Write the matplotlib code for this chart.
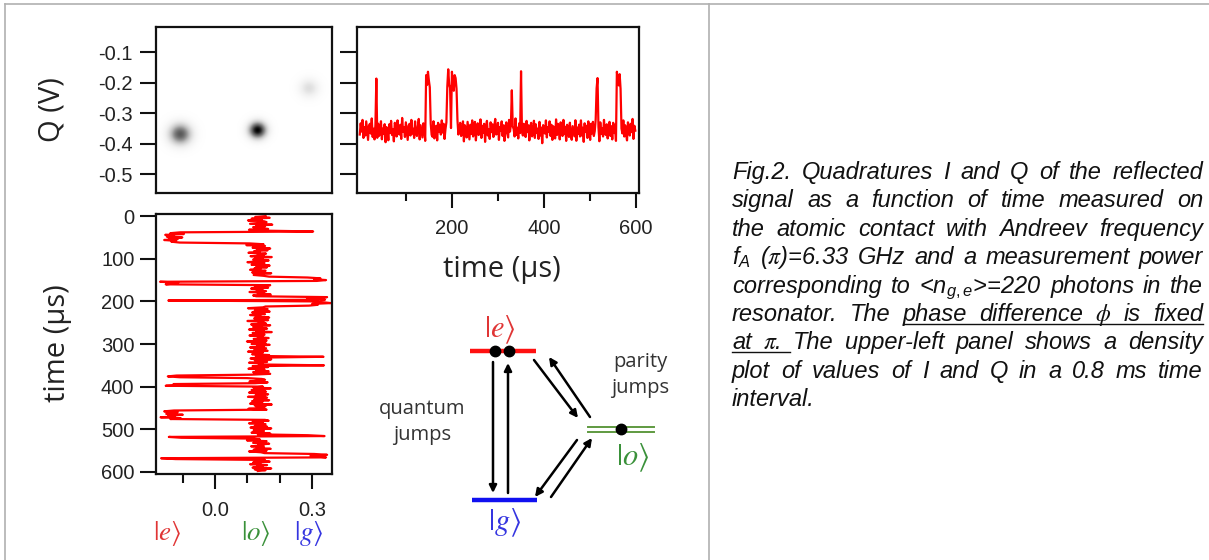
import numpy as np
import matplotlib
matplotlib.use("Agg")
import matplotlib.pyplot as plt
from matplotlib.ticker import FixedLocator
from matplotlib.transforms import blended_transform_factory

plt.rcParams['mathtext.fontset'] = 'custom'
plt.rcParams['mathtext.it'] = 'Liberation Sans:italic'
plt.rcParams['mathtext.rm'] = 'Liberation Sans'

# ---- data ----
# state of the contact, sample every 2 us (e = excited, o = odd, g = ground)
dt = 2.0
state_runs = [('o', 18), ('g', 1), ('e', 13), ('o', 40), ('g', 5), ('e', 4),
              ('o', 14), ('g', 4), ('e', 1), ('g', 6), ('o', 59), ('g', 1),
              ('o', 9), ('g', 1), ('o', 11), ('e', 3), ('o', 7), ('e', 3),
              ('o', 28), ('e', 11), ('o', 18), ('g', 2), ('e', 2), ('o', 18),
              ('g', 5), ('e', 2), ('o', 14)]
i_level = {'e': -0.132, 'o': 0.137, 'g': 0.318}
q_level = {'e': -0.362, 'o': -0.356, 'g': -0.195}

# measurement noise on each sample, in units of noise_unit volts
noise_unit = 0.0016
i_noise = """
12 -8 20 -15 5 -22 9 14 -3 -18 25 -6 11 -12 2 17 -20 7 -9 15 -4 22 -14 3 -11 19 -7 10 -16 6
-2 14 -19 8 -25 11 4 -13 21 -5 16 -10 1 -21 13 -3 9 -17 24 -8 6 -12 18 -1 -23 10 3 -15 20 -6
15 -9 2 -18 12 7 -14 23 -4 -11 8 19 -20 5 -7 16 -2 -24 11 4 -13 21 -9 1 17 -16 6 -5 13 -19
9 -3 22 -12 -6 18 -21 3 14 -8 -15 10 25 -11 0 -17 12 7 -22 16 -4 -9 20 -14 5 11 -18 2 -7 19
-10 6 17 -23 8 -1 13 -16 21 -5 -12 4 15 -20 9 -6 24 -13 2 10 -19 7 -3 18 -11 -8 14 -24 5 12
-15 20 -4 9 -18 13 1 -10 16 -22 7 3 -14 19 -7 11 -2 -17 23 -9 4 15 -20 6 -1 12 -13 17 -5 -21
10 -6 18 -12 3 21 -16 8 -9 14 -24 5 11 -3 -19 16 -8 2 20 -13 7 -11 22 -4 -15 9 13 -20 1 17
-7 11 -22 15 4 -10 19 -14 6 -2 -18 24 -9 12 -5 8 -21 14 3 -16 10 -1 -12 20 -8 5 -23 16 -4 11
18 -13 7 -20 12 2 -9 15 -17 23 -6 -11 9 4 -15 21 -3 -19 13 -7 17 -10 1 -24 14 6 -12 19 -2 8
-16 9 -5 22 -11 14 -20 3 10 -7 18 -14 -1 16 -22 6 11 -8 20 -12 2 -18 15 -4 7 -13 23 -9 12 -3
"""
q_noise = """
-9 14 -3 21 -16 6 -11 18 -2 -20 9 13 -7 24 -14 3 -19 11 5 -12 17 -8 -1 22 -15 7 -4 16 -21 10
4 -17 12 -6 19 -10 2 -23 15 8 -13 20 -5 -9 11 -18 25 -3 6 -14 16 -1 -20 9 13 -11 21 -7 3 -16
18 -4 -12 7 23 -19 10 -2 -15 14 5 -22 12 -8 19 1 -13 17 -6 -10 22 -17 4 9 -21 15 -3 11 -9 20
-5 13 -18 2 16 -11 24 -7 -14 8 19 -3 -20 12 6 -16 21 -9 1 15 -12 -6 18 -23 10 4 -15 17 -1 -19
11 -8 20 -13 5 17 -21 3 14 -10 -2 22 -16 9 -5 13 -24 7 19 -11 2 -18 16 -4 12 -14 8 23 -9 -6
15 -20 6 -1 18 -12 10 -22 4 16 -7 -15 21 -3 11 -19 8 2 -13 24 -10 5 -17 14 -6 20 -2 -11 13 -8
-14 19 -4 10 -21 7 15 -9 -1 23 -16 12 -6 3 -18 17 -11 9 -23 14 1 -7 20 -15 6 -3 18 -12 11 -20
8 -2 -17 22 -10 13 4 -19 16 -5 -12 21 -8 7 -22 11 3 -14 19 -6 -16 12 2 -9 24 -18 9 -4 15 -13
20 -11 5 -24 14 -3 9 -16 18 1 -20 13 -7 17 -12 -2 22 -15 6 10 -19 16 -8 4 -13 21 -5 -10 12 -17
3 17 -12 8 -19 15 -6 11 -22 19 2 -9 14 -16 7 -3 20 -13 10 -8 -21 16 5 -11 13 -4 23 -18 9 -1
"""

# peaks of the I-Q density plot (e, o, g)
blob_i = [-0.109, 0.130, 0.289]
blob_q = [-0.369, -0.356, -0.218]
blob_w = [0.024, 0.019, 0.021]
blob_h = [0.72, 1.0, 0.22]

q_ticks = [-0.5, -0.4, -0.3, -0.2, -0.1]
t_ticks = [0, 100, 200, 300, 400, 500, 600]
t_major = [200, 400, 600]
t_minor = [100, 300, 500]
i_major = [0.0, 0.3]
i_minor = [-0.1, 0.1, 0.2]

caption = [
    "Fig.2. Quadratures I and Q of the reflected",
    "signal as a function of time measured on",
    "the atomic contact with Andreev frequency",
    "f$_A$ ($\\pi$)=6.33 GHz and a measurement power",
    "corresponding to <n$_{g,e}$>=220 photons in the",
    "resonator. The phase difference $\\phi$ is fixed",
    "at $\\pi$. The upper-left panel shows a density",
    "plot of values of I and Q in a 0.8 ms time",
    "interval.",
]

# ---- build the traces ----
states = ''.join(s * n for s, n in state_runs)
t = np.arange(len(states)) * dt
I = np.array([i_level[s] for s in states]) + np.array(i_noise.split(), float) * noise_unit
Q = np.array([q_level[s] for s in states]) + np.array(q_noise.split(), float) * noise_unit

ilim = (-0.183, 0.362)
qlim = (-0.562, -0.018)

W, H = 1209, 560
fig = plt.figure(figsize=(W / 100, H / 100), dpi=100)

# full-figure overlay in pixel units for frame, sketch and caption
ov = fig.add_axes([0, 0, 1, 1])
ov.set_xlim(0, W)
ov.set_ylim(H, 0)
ov.axis('off')

def px(l, top, r, b):
    return [l / W, 1 - b / H, (r - l) / W, (b - top) / H]

ax_d = fig.add_axes(px(156, 27, 332, 193))
ax_q = fig.add_axes(px(357, 27, 639, 193))
ax_i = fig.add_axes(px(156, 214, 332, 474))

tick_font = dict(family='Liberation Sans', size=14.5)
for ax in (ax_d, ax_q, ax_i):
    for s in ax.spines.values():
        s.set_linewidth(1.6)
        s.set_color('#111111')
    ax.tick_params(width=1.5, color='#111111', labelcolor='#222222')

# density plot
gi = np.linspace(ilim[0], ilim[1], 320)
gq = np.linspace(qlim[0], qlim[1], 320)
GI, GQ = np.meshgrid(gi, gq)
dens = np.zeros_like(GI)
for ci, cq, w, h in zip(blob_i, blob_q, blob_w, blob_h):
    dens = np.maximum(dens, h * np.exp(-((GI - ci) ** 2 + (GQ - cq) ** 2) / (2 * w ** 2)))
ax_d.imshow(dens, extent=[ilim[0], ilim[1], qlim[0], qlim[1]], origin='lower',
            cmap='Greys', vmin=0, vmax=1, aspect='auto', interpolation='bilinear')
ax_d.set_xlim(ilim)
ax_d.set_ylim(qlim)
ax_d.set_xticks([])
ax_d.set_yticks(q_ticks)
ax_d.set_yticklabels([f"{v:.1f}" for v in q_ticks], **tick_font)
ax_d.tick_params(axis='y', length=11.5, pad=5)

# Q versus time
ax_q.plot(t, Q, color='#ff0000', lw=1.6)
ax_q.set_xlim(-6, 606)
ax_q.set_ylim(qlim)
ax_q.set_yticks(q_ticks)
ax_q.tick_params(axis='y', length=12, labelleft=False)
ax_q.xaxis.set_major_locator(FixedLocator(t_major))
ax_q.xaxis.set_minor_locator(FixedLocator(t_minor))
ax_q.set_xticklabels([str(v) for v in t_major], **tick_font)
ax_q.tick_params(axis='x', which='major', length=11, pad=8)
ax_q.tick_params(axis='x', which='minor', length=5.5, width=1.5, color='#111111')

# I versus time (time running downwards)
ax_i.plot(I, t, color='#ff0000', lw=1.6)
ax_i.set_xlim(ilim)
ax_i.set_ylim(605, -5)
ax_i.set_yticks(t_ticks)
ax_i.set_yticklabels([str(v) for v in t_ticks], **tick_font)
ax_i.tick_params(axis='y', length=11.5, pad=4)
ax_i.xaxis.set_major_locator(FixedLocator(i_major))
ax_i.xaxis.set_minor_locator(FixedLocator(i_minor))
ax_i.set_xticklabels([f"{v:.1f}" for v in i_major], **tick_font)
ax_i.tick_params(axis='x', which='major', length=11, pad=8.5)
ax_i.tick_params(axis='x', which='minor', length=6.5, width=1.5, color='#111111')

# axis titles
lab_font = dict(family='Open Sans', size=21, color='#222222')
ov.text(52, 110, "Q (V)", rotation=90, ha='center', va='center', **lab_font)
ov.text(502, 269, "time (µs)", ha='center', va='center', **lab_font)
ov.text(57, 343, "time (µs)", rotation=90, ha='center', va='center', **lab_font)

# state labels under the I axis
ket_colors = {'e': '#e03535', 'o': '#3a913a', 'g': '#3535e0'}
bt = blended_transform_factory(ax_i.transData, fig.transFigure)
for s, x in zip(['e', 'o', 'g'], [-0.149, 0.127, 0.290]):
    ax_i.text(x, 1 - 533 / H, rf"$|{s}\rangle$", transform=bt, ha='center', va='center',
              fontsize=19.5, color=ket_colors[s], math_fontfamily='stix', clip_on=False)

# frame lines of the original layout
fc = '#b0b0b0'
ov.plot([5, W], [4, 4], color=fc, lw=1.2, clip_on=False)
ov.plot([5, 5], [4, H], color=fc, lw=1.2, clip_on=False)
ov.plot([709, 709], [4, H], color=fc, lw=1.2, clip_on=False)

# level sketch
ov.plot([470, 536], [351, 351], color='#ff1010', lw=3.2, solid_capstyle='butt')
ov.plot([472, 537], [500, 500], color='#1010f0', lw=3.2, solid_capstyle='butt')
ov.plot([588, 654], [427, 427], color='#5f9a40', lw=1.4)
ov.plot([588, 654], [432, 432], color='#5f9a40', lw=1.4)
ov.plot([495, 509, 621], [351, 351, 429], 'o', color='black', ms=7.5)
arrows = [((493, 362), (493, 493)), ((508, 493), (508, 363)),
          ((534, 360), (578, 418)), ((590, 417), (549, 357)),
          ((577, 440), (535, 497)), ((551, 497), (592, 438))]
for a, b in arrows:
    ov.annotate('', xy=b, xytext=a,
                arrowprops=dict(arrowstyle='-|>', color='black', lw=1.8,
                                mutation_scale=11, shrinkA=0, shrinkB=0))
ov.text(500, 330, r"$|e\rangle$", ha='center', va='center', fontsize=22,
        color='#e03535', math_fontfamily='stix')
ov.text(505, 523, r"$|g\rangle$", ha='center', va='center', fontsize=22,
        color='#3535e0', math_fontfamily='stix')
ov.text(633, 458, r"$|o\rangle$", ha='center', va='center', fontsize=22,
        color='#3a913a', math_fontfamily='stix')
sk_font = dict(family='Open Sans', size=14.5, color='#333333', ha='center',
               va='center', linespacing=1.45)
ov.text(422, 422, "quantum\njumps", **sk_font)
ov.text(640, 375, "parity\njumps", **sk_font)

# justified caption
x0, x1 = 732, 1203
base0, step = 179, 28.4
cap_font = dict(family='Liberation Sans', style='italic', size=17, color='#111111')
renderer = fig.canvas.get_renderer()
for k, line in enumerate(caption):
    yb = base0 + k * step
    words = line.split(' ')
    texts = []
    for wd in words:
        mf = 'stix' if '\\p' in wd else 'custom'
        texts.append(ov.text(x0, yb, wd, va='baseline', ha='left',
                             math_fontfamily=mf, **cap_font))
    widths = [tx.get_window_extent(renderer=renderer).width for tx in texts]
    if k == len(caption) - 1:
        gap = 6
    else:
        gap = (x1 - x0 - sum(widths)) / (len(words) - 1)
    xs = []
    x = x0
    for tx, w in zip(texts, widths):
        tx.set_x(x)
        xs.append((x, x + w))
        x += w + gap
    if k == 5:
        ov.plot([xs[2][0], xs[-1][1]], [yb + 3, yb + 3], color='#111111', lw=1.0)
    if k == 6:
        ov.plot([xs[0][0], xs[1][1] + 0.8 * gap], [yb + 3, yb + 3], color='#111111', lw=1.0)

fig.savefig("out.png", dpi=100)
